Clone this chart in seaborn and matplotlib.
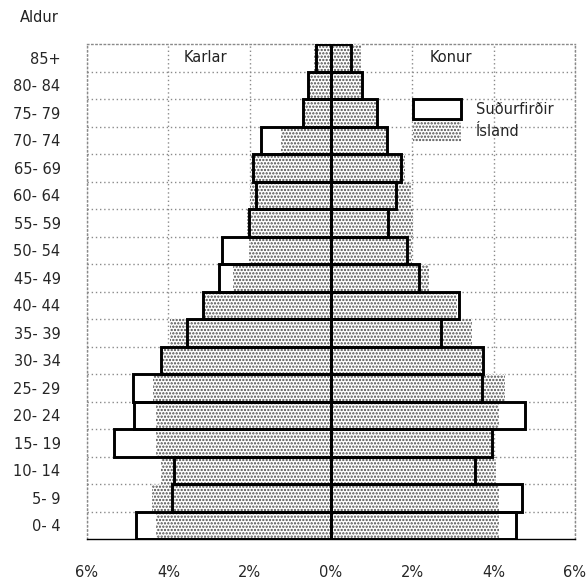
import matplotlib
matplotlib.use("Agg")
import numpy as np
import pandas as pd
import seaborn as sns
import matplotlib.pyplot as plt
from matplotlib.patches import Patch

# age groups, youngest first
ages = ["0- 4", "5- 9", "10- 14", "15- 19", "20- 24", "25- 29", "30- 34", "35- 39",
        "40- 44", "45- 49", "50- 54", "55- 59", "60- 64", "65- 69", "70- 74",
        "75- 79", "80- 84", "85+"]

# share of population (%)
sud_karlar = [4.80, 3.92, 3.86, 5.33, 4.84, 4.87, 4.18, 3.53, 3.14, 2.75,
              2.67, 2.01, 1.85, 1.93, 1.73, 0.68, 0.56, 0.37]
isl_karlar = [4.31, 4.39, 4.18, 4.30, 4.31, 4.38, 4.15, 3.95, 3.15, 2.42,
              2.02, 2.06, 1.98, 1.97, 1.24, 0.72, 0.57, 0.42]
sud_konur = [4.56, 4.70, 3.53, 3.96, 4.78, 3.72, 3.74, 2.70, 3.14, 2.16,
             1.88, 1.40, 1.59, 1.71, 1.38, 1.12, 0.77, 0.48]
isl_konur = [4.13, 4.13, 4.05, 3.93, 4.13, 4.29, 3.72, 3.47, 3.10, 2.41,
             2.00, 2.02, 1.96, 1.82, 1.40, 1.13, 0.78, 0.73]

tick_vals = [-6, -4, -2, 0, 2, 4, 6]
tick_labels = ["6%", "4%", "2%", "0%", "2%", "4%", "6%"]

sns.set_style("white")
plt.rcParams["font.family"] = ["DejaVu Sans"]
plt.rcParams["hatch.linewidth"] = 1.1

df = pd.DataFrame({
    "age": ages,
    "sud_k": -np.array(sud_karlar),
    "isl_k": -np.array(isl_karlar),
    "sud_w": sud_konur,
    "isl_w": isl_konur,
})
order = ages[::-1]

fig = plt.figure(figsize=(5.86, 5.8), dpi=100)
ax = fig.add_axes([87 / 586, 41 / 580, 488 / 586, 495 / 580])

common = dict(data=df, y="age", order=order, orient="h", width=1.0,
              saturation=1, errorbar=None, ax=ax)
dot = "#4a4a4a"

for col in ["sud_k", "sud_w"]:
    # white backing so grid does not show inside the region bars
    sns.barplot(x=col, color="white", edgecolor="white", linewidth=0, zorder=2, **common)
for col in ["isl_k", "isl_w"]:
    sns.barplot(x=col, color="white", edgecolor=dot, hatch=".....",
                linewidth=0, zorder=3, **common)
for col in ["sud_k", "sud_w"]:
    sns.barplot(x=col, color="black", fill=False, linewidth=2.1, zorder=4, **common)

ax.set_xlim(-6, 6)
ax.set_ylim(len(ages) - 0.5, -0.5)
ax.set_xlabel("")
ax.set_ylabel("")
ax.set_xticks(tick_vals)
ax.set_xticklabels(tick_labels, fontsize=10.5)
ax.tick_params(axis="x", direction="inout", length=9, width=1, color="black", pad=14)
ax.tick_params(axis="y", length=0, pad=19, labelsize=10.5)
ax.set_yticks(np.arange(0.5, len(ages) - 1, 1), minor=True)
ax.tick_params(axis="y", which="minor", length=0)

grid_kw = dict(color="#8a8a8a", linestyle=(0, (1, 2)), linewidth=1)
ax.grid(which="minor", axis="y", **grid_kw)
ax.grid(which="major", axis="x", **grid_kw)
ax.grid(which="major", axis="y", visible=False)
for s in ["top", "left", "right"]:
    ax.spines[s].set_color("#8a8a8a")
    ax.spines[s].set_linestyle((0, (1, 2)))
    ax.spines[s].set_linewidth(1)
ax.spines["bottom"].set_color("black")
ax.spines["bottom"].set_linewidth(1)

ax.text(-3.08, 0, "Karlar", ha="center", va="center", fontsize=10.5, color="#222222")
ax.text(2.96, 0, "Konur", ha="center", va="center", fontsize=10.5, color="#222222")
fig.text(20 / 586, 1 - 17 / 580, "Aldur", ha="left", va="center", fontsize=10.5,
         color="#222222")

handles = [Patch(facecolor="white", edgecolor="black", linewidth=2.1),
           Patch(facecolor="white", edgecolor=dot, hatch=".....", linewidth=0)]
ax.legend(handles=handles, labels=["Suðurfirðir", "Ísland"], loc="upper left",
          bbox_to_anchor=(413 / 586, 1 - 99 / 580), bbox_transform=fig.transFigure,
          frameon=False, borderpad=0, borderaxespad=0, handlelength=3.3,
          handleheight=1.75, handletextpad=1.0, labelspacing=0.15, fontsize=10.5)

fig.savefig("out.png", dpi=100)
